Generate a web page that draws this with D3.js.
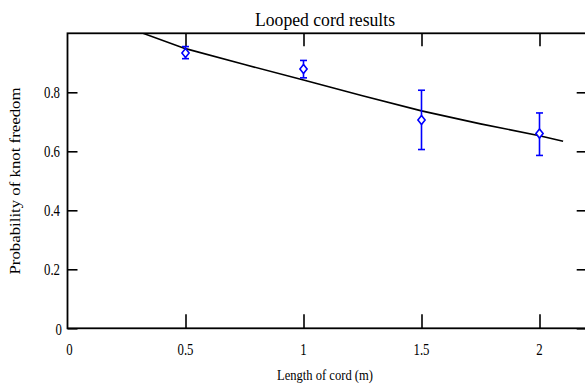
<!DOCTYPE html>
<html>
<head>
<meta charset="utf-8">
<script src="https://cdn.jsdelivr.net/npm/d3@7"></script>
<style>
  html, body { margin: 0; padding: 0; background: #fff; }
  svg { display: block; }
  svg text { font-family: "Liberation Serif", "DejaVu Serif", serif; fill: #000; }
</style>
</head>
<body>
<svg id="chart" width="585" height="387"></svg>
<script>
// ---- data ----
const lengths      = [0.5, 1.0, 1.5, 2.0];          // cord length (m)
const probs        = [0.933, 0.879, 0.706, 0.660];  // measured probability
const errLow       = [0.914, 0.849, 0.606, 0.586];  // lower error bound
const errHigh      = [0.955, 0.908, 0.807, 0.730];  // upper error bound
const fitLengths   = [0.32, 0.50, 0.75, 1.00, 1.25, 1.50, 1.75, 2.00, 2.10];
const fitProbs     = [1.000, 0.948, 0.894, 0.842, 0.788, 0.737, 0.693, 0.653, 0.634];
const xTicks       = [0, 0.5, 1, 1.5, 2];
const yTicks       = [0, 0.2, 0.4, 0.6, 0.8];
const titleText    = "Looped cord results";
const xLabelText   = "Length of cord (m)";
const yLabelText   = "Probability of knot freedom";

const svg = d3.select("#chart");
const pL = 67.5, pR = 586.7, pT = 33.3, pB = 328.3;
const serif = "'Liberation Serif', 'DejaVu Serif', serif";

const x = d3.scaleLinear().domain([0, 2.2]).range([pL, pR]);
const y = d3.scaleLinear().domain([0, 1]).range([pB, pT]);

// clip
svg.append("defs").append("clipPath").attr("id", "clip")
  .append("rect").attr("x", pL).attr("y", pT).attr("width", pR - pL).attr("height", pB - pT);

// frame
svg.append("rect")
  .attr("x", pL).attr("y", pT).attr("width", pR - pL).attr("height", pB - pT)
  .attr("fill", "none").attr("stroke", "#000").attr("stroke-width", 1.8);

// axes (inward ticks)
const axStyle = g => {
  g.select(".domain").remove();
  g.selectAll(".tick line").attr("stroke", "#000").attr("stroke-width", 1.6);
};
svg.append("g").attr("transform", `translate(0,${pB})`)
  .call(d3.axisTop(x).tickValues(xTicks.filter(d => d > 0)).tickSize(14).tickFormat(""))
  .call(axStyle);
svg.append("g").attr("transform", `translate(0,${pT})`)
  .call(d3.axisBottom(x).tickValues(xTicks.filter(d => d > 0)).tickSize(13).tickFormat(""))
  .call(axStyle);
svg.append("g").attr("transform", `translate(${pL},0)`)
  .call(d3.axisRight(y).tickValues(yTicks).tickSize(10).tickFormat(""))
  .call(axStyle);
svg.append("g").attr("transform", `translate(${pR},0)`)
  .call(d3.axisLeft(y).tickValues(yTicks).tickSize(10).tickFormat(""))
  .call(axStyle);

// tick labels
const fmt = d => d3.format("")(d);
const xLab = svg.append("g").selectAll("text").data(xTicks).join("text")
  .attr("x", d => x(d) + (d === 0 ? 2 : 0)).attr("y", 355)
  .attr("text-anchor", "middle").attr("font-size", 16).attr("font-family", serif)
  .text(fmt);
const yLab = svg.append("g").selectAll("text").data(yTicks).join("text")
  .attr("x", d => d === 0 ? 62 : 60).attr("y", d => y(d) + 6 + (d === 0 ? 1 : 0))
  .attr("text-anchor", "end").attr("font-size", 16).attr("font-family", serif)
  .text(fmt);

// condense tick labels
[xLab, yLab].forEach(sel => sel.each(function() {
  const w = this.getComputedTextLength();
  d3.select(this).attr("textLength", w * 0.8).attr("lengthAdjust", "spacingAndGlyphs");
}));

// title and axis labels
svg.append("text").attr("x", 325).attr("y", 26).attr("text-anchor", "middle")
  .attr("font-size", 19).attr("font-family", serif)
  .attr("textLength", 140).attr("lengthAdjust", "spacingAndGlyphs")
  .text(titleText);
svg.append("text").attr("x", 325).attr("y", 380).attr("text-anchor", "middle")
  .attr("font-size", 15).attr("font-family", serif)
  .attr("textLength", 96).attr("lengthAdjust", "spacingAndGlyphs")
  .text(xLabelText);
svg.append("text").attr("transform", "translate(20,181) rotate(-90)").attr("text-anchor", "middle")
  .attr("font-size", 14).attr("font-family", serif)
  .attr("textLength", 187).attr("lengthAdjust", "spacingAndGlyphs")
  .text(yLabelText);

// fit curve
const fitData = fitLengths.map((l, i) => [l, fitProbs[i]]);
svg.append("path").datum(fitData)
  .attr("clip-path", "url(#clip)")
  .attr("fill", "none").attr("stroke", "#000").attr("stroke-width", 1.6)
  .attr("d", d3.line().x(d => x(d[0])).y(d => y(d[1])).curve(d3.curveLinear));

// error bars
const pts = lengths.map((l, i) => ({ l, p: probs[i], lo: errLow[i], hi: errHigh[i] }));
const blue = "#0000ff";
const eb = svg.append("g").attr("stroke", blue).attr("stroke-width", 1.6).attr("fill", "none");
eb.selectAll(".v").data(pts).join("line")
  .attr("x1", d => x(d.l)).attr("x2", d => x(d.l)).attr("y1", d => y(d.lo)).attr("y2", d => y(d.hi));
eb.selectAll(".ct").data(pts).join("line")
  .attr("x1", d => x(d.l) - 3.5).attr("x2", d => x(d.l) + 3.5).attr("y1", d => y(d.hi)).attr("y2", d => y(d.hi));
eb.selectAll(".cb").data(pts).join("line")
  .attr("x1", d => x(d.l) - 3.5).attr("x2", d => x(d.l) + 3.5).attr("y1", d => y(d.lo)).attr("y2", d => y(d.lo));

// diamond markers
eb.selectAll("path").data(pts).join("path")
  .attr("fill", "#fff")
  .attr("d", d => {
    const cx = x(d.l), cy = y(d.p);
    return `M${cx},${cy - 4.5}L${cx + 3.6},${cy}L${cx},${cy + 4.5}L${cx - 3.6},${cy}Z`;
  });
</script>
</body>
</html>
